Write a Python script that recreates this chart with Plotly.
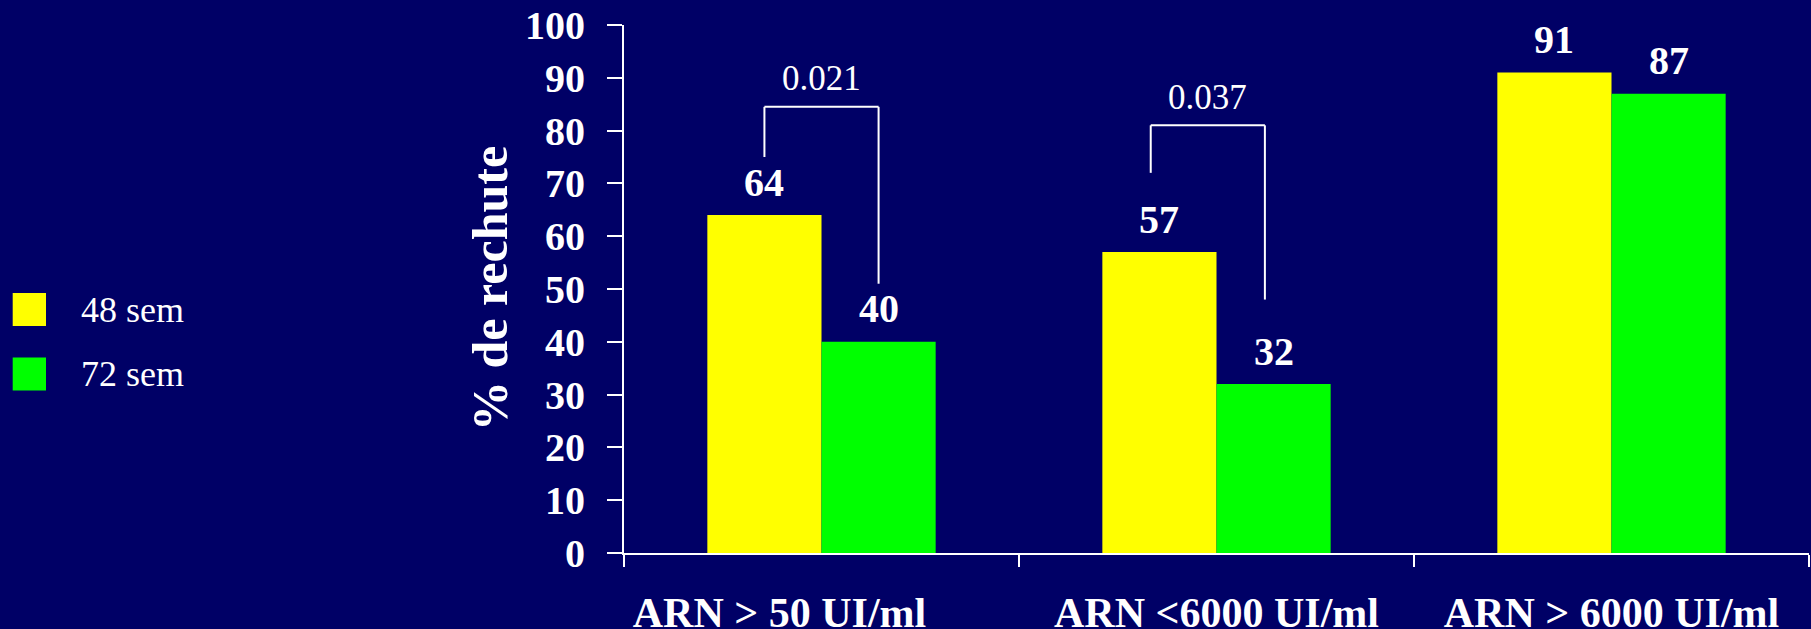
import plotly.graph_objects as go

categories = ["ARN > 50 UI/ml", "ARN <6000 UI/ml", "ARN > 6000 UI/ml"]
tick_labels = ["ARN > 50 UI/ml" + "\u00a0" * 8, "ARN <6000 UI/ml", "ARN > 6000 UI/ml"]
series_names = ["48 sem", "72 sem"]
values_48 = [64, 57, 91]
values_72 = [40, 32, 87]
colors = ["#FFFF00", "#00FF00"]

# significance brackets (category index, p-value, heights)
bracket_cat = [0, 1]
bracket_p = ["0.021", "0.037"]
bracket_top = [84.5, 81]
bracket_left_bottom = [75, 72]
bracket_right_bottom = [51, 48]
bracket_offset = [0.0, -0.022]

BG = "#000066"
FONT = "Liberation Serif"

W, H = 1811, 629
ML, MR, MT, MB = 624, 2, 25, 76
plot_w = W - ML - MR
cat_w = plot_w / len(categories)
bargap = 0.422
bar_frac = (1 - bargap) / 2  # fraction of category per bar
bar_px = bar_frac * cat_w

fig = go.Figure()
for name, vals, col in zip(series_names, [values_48, values_72], colors):
    fig.add_trace(go.Bar(x=categories, y=vals, name=name, marker_color=col,
                         marker_line_width=0, showlegend=False))

annotations = []
# value labels
for si, vals in enumerate([values_48, values_72]):
    shift = (-0.5 if si == 0 else 0.5) * bar_px
    for c, v in zip(categories, vals):
        annotations.append(dict(x=c, y=v, xref="x", yref="y", text=f"<b>{v}</b>",
                                showarrow=False, xshift=shift, yshift=33,
                                yanchor="middle",
                                font=dict(family=FONT, size=40, color="white")))

shapes = []
for ci, p, top, lb, rb, off in zip(bracket_cat, bracket_p, bracket_top,
                                   bracket_left_bottom, bracket_right_bottom, bracket_offset):
    xl = ci - bar_frac / 2 + off
    xr = ci + bar_frac / 2 + off
    line = dict(color="white", width=2)
    shapes.append(dict(type="line", xref="x", yref="y", x0=xl, x1=xl, y0=lb, y1=top, line=line))
    shapes.append(dict(type="line", xref="x", yref="y", x0=xl, x1=xr, y0=top, y1=top, line=line))
    shapes.append(dict(type="line", xref="x", yref="y", x0=xr, x1=xr, y0=top, y1=rb, line=line))
    annotations.append(dict(x=ci + off, y=top, xref="x", yref="y", text=p, showarrow=False,
                            yanchor="middle", yshift=28,
                            font=dict(family=FONT, size=35, color="white")))

# legend (custom)
legend_y = [243.5, 179]
for name, col, yy in zip(series_names, colors, legend_y):
    shapes.append(dict(type="rect", xref="paper", yref="paper",
                       xsizemode="pixel", ysizemode="pixel", xanchor=0, yanchor=0,
                       x0=12.7 - ML, x1=46 - ML, y0=yy - 16.5, y1=yy + 16.5,
                       fillcolor=col, line=dict(width=0)))
    annotations.append(dict(x=0, y=0, xref="paper", yref="paper", text=name,
                            showarrow=False, xanchor="left", yanchor="middle",
                            xshift=79 - ML, yshift=yy,
                            font=dict(family=FONT, size=36, color="white")))

# y-axis title
annotations.append(dict(x=0, y=0.5, xref="paper", yref="paper", text="<b>% de rechute</b>",
                        showarrow=False, textangle=-90, xanchor="center", yanchor="middle",
                        xshift=-134, font=dict(family=FONT, size=50, color="white")))

fig.update_layout(
    width=W, height=H,
    margin=dict(l=ML, r=MR, t=MT, b=MB, autoexpand=False),
    paper_bgcolor=BG, plot_bgcolor=BG,
    barmode="group", bargap=bargap, bargroupgap=0,
    showlegend=False,
    shapes=shapes, annotations=annotations,
    xaxis=dict(type="category", tickvals=categories, ticktext=tick_labels,
               tickangle=0, automargin=False,
               showline=True, linecolor="white", linewidth=2,
               ticks="outside", tickson="boundaries", ticklen=12, tickwidth=2,
               tickcolor="white", showgrid=False, zeroline=False,
               tickfont=dict(family=FONT, size=42, color="white", weight="bold"),
               ticklabelstandoff=22),
    yaxis=dict(range=[0, 100], dtick=10, showline=True, linecolor="white", linewidth=2,
               automargin=False,
               ticks="outside", ticklen=15, tickwidth=2, tickcolor="white",
               showgrid=False, zeroline=False,
               tickfont=dict(family=FONT, size=40, color="white", weight="bold"),
               ticklabelstandoff=14),
)

fig.write_html("out.html", config={"displayModeBar": False},
               post_script="document.body.style.margin='0';document.body.style.background='#000066';")
